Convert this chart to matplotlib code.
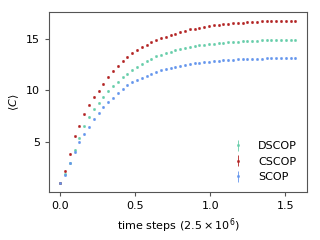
"""Growth of <C> over time for the three SCOP variants."""

import matplotlib

matplotlib.use("Agg")

import matplotlib.pyplot as plt

# time axis in units of 2.5e6 steps
time = [
    0.000, 0.032, 0.064, 0.096, 0.128, 0.160, 0.192, 0.224, 0.256, 0.288,
    0.320, 0.352, 0.384, 0.416, 0.448, 0.480, 0.512, 0.544, 0.576, 0.608,
    0.640, 0.672, 0.704, 0.736, 0.768, 0.800, 0.832, 0.864, 0.896, 0.928,
    0.960, 0.992, 1.024, 1.056, 1.088, 1.120, 1.152, 1.184, 1.216, 1.248,
    1.280, 1.312, 1.344, 1.376, 1.408, 1.440, 1.472, 1.504, 1.536, 1.568,
]

dscop = [
    1.00, 1.85, 3.00, 4.19, 5.42, 6.51, 7.40, 8.15, 8.80, 9.37,
    9.90, 10.39, 10.84, 11.24, 11.60, 11.95, 12.27, 12.56, 12.82, 13.05,
    13.27, 13.46, 13.60, 13.74, 13.87, 14.01, 14.10, 14.19, 14.26, 14.35,
    14.42, 14.46, 14.52, 14.55, 14.59, 14.64, 14.68, 14.72, 14.74, 14.76,
    14.78, 14.81, 14.83, 14.85, 14.86, 14.87, 14.88, 14.89, 14.90, 14.90,
]

cscop = [
    1.00, 2.16, 3.84, 5.54, 6.58, 7.66, 8.61, 9.32, 9.93, 10.61,
    11.28, 11.84, 12.37, 12.85, 13.23, 13.58, 13.90, 14.17, 14.42, 14.64,
    14.83, 15.03, 15.20, 15.35, 15.48, 15.63, 15.77, 15.89, 15.97, 16.05,
    16.13, 16.21, 16.28, 16.32, 16.38, 16.43, 16.47, 16.51, 16.54, 16.58,
    16.61, 16.64, 16.66, 16.68, 16.69, 16.70, 16.71, 16.72, 16.72, 16.73,
]

scop = [
    1.00, 1.77, 2.96, 4.00, 4.97, 5.79, 6.45, 7.19, 7.80, 8.35,
    8.84, 9.29, 9.72, 10.10, 10.50, 10.80, 11.00, 11.18, 11.42, 11.61,
    11.77, 11.92, 12.05, 12.17, 12.27, 12.38, 12.47, 12.56, 12.61, 12.68,
    12.73, 12.77, 12.83, 12.86, 12.90, 12.93, 12.96, 12.99, 13.01, 13.03,
    13.05, 13.06, 13.07, 13.08, 13.08, 13.09, 13.09, 13.10, 13.10, 13.10,
]

labels = ["DSCOP", "CSCOP", "SCOP"]
series_err = [0.08, 0.08, 0.08]

COLORS = ["mediumaquamarine", "firebrick", "cornflowerblue"]


def main() -> None:
    plt.rcParams["font.size"] = 8
    fig, ax = plt.subplots(figsize=(3.2, 2.4), dpi=100)
    fig.subplots_adjust(left=0.154, right=0.960, top=0.951, bottom=0.199)

    for values, err, label, color in zip([dscop, cscop, scop], series_err, labels, COLORS):
        ax.errorbar(
            time,
            values,
            yerr=err,
            fmt="s",
            markersize=1.2,
            markeredgewidth=0.5,
            elinewidth=0.6,
            color=color,
            label=label,
        )

    ax.set_xlim(-0.073, 1.647)
    ax.set_ylim(0.13, 17.6)
    ax.set_xticks([0.0, 0.5, 1.0, 1.5])
    ax.set_yticks([5, 10, 15])
    ax.set_xlabel(r"time steps $(2.5\times10^6)$")
    ax.set_ylabel(r"$\langle C\rangle$")

    for spine in ax.spines.values():
        spine.set_color("#555555")
    ax.tick_params(color="#555555", length=3)

    ax.legend(loc="lower right", frameon=False)

    fig.savefig("out.png", dpi=100)


if __name__ == "__main__":
    main()
